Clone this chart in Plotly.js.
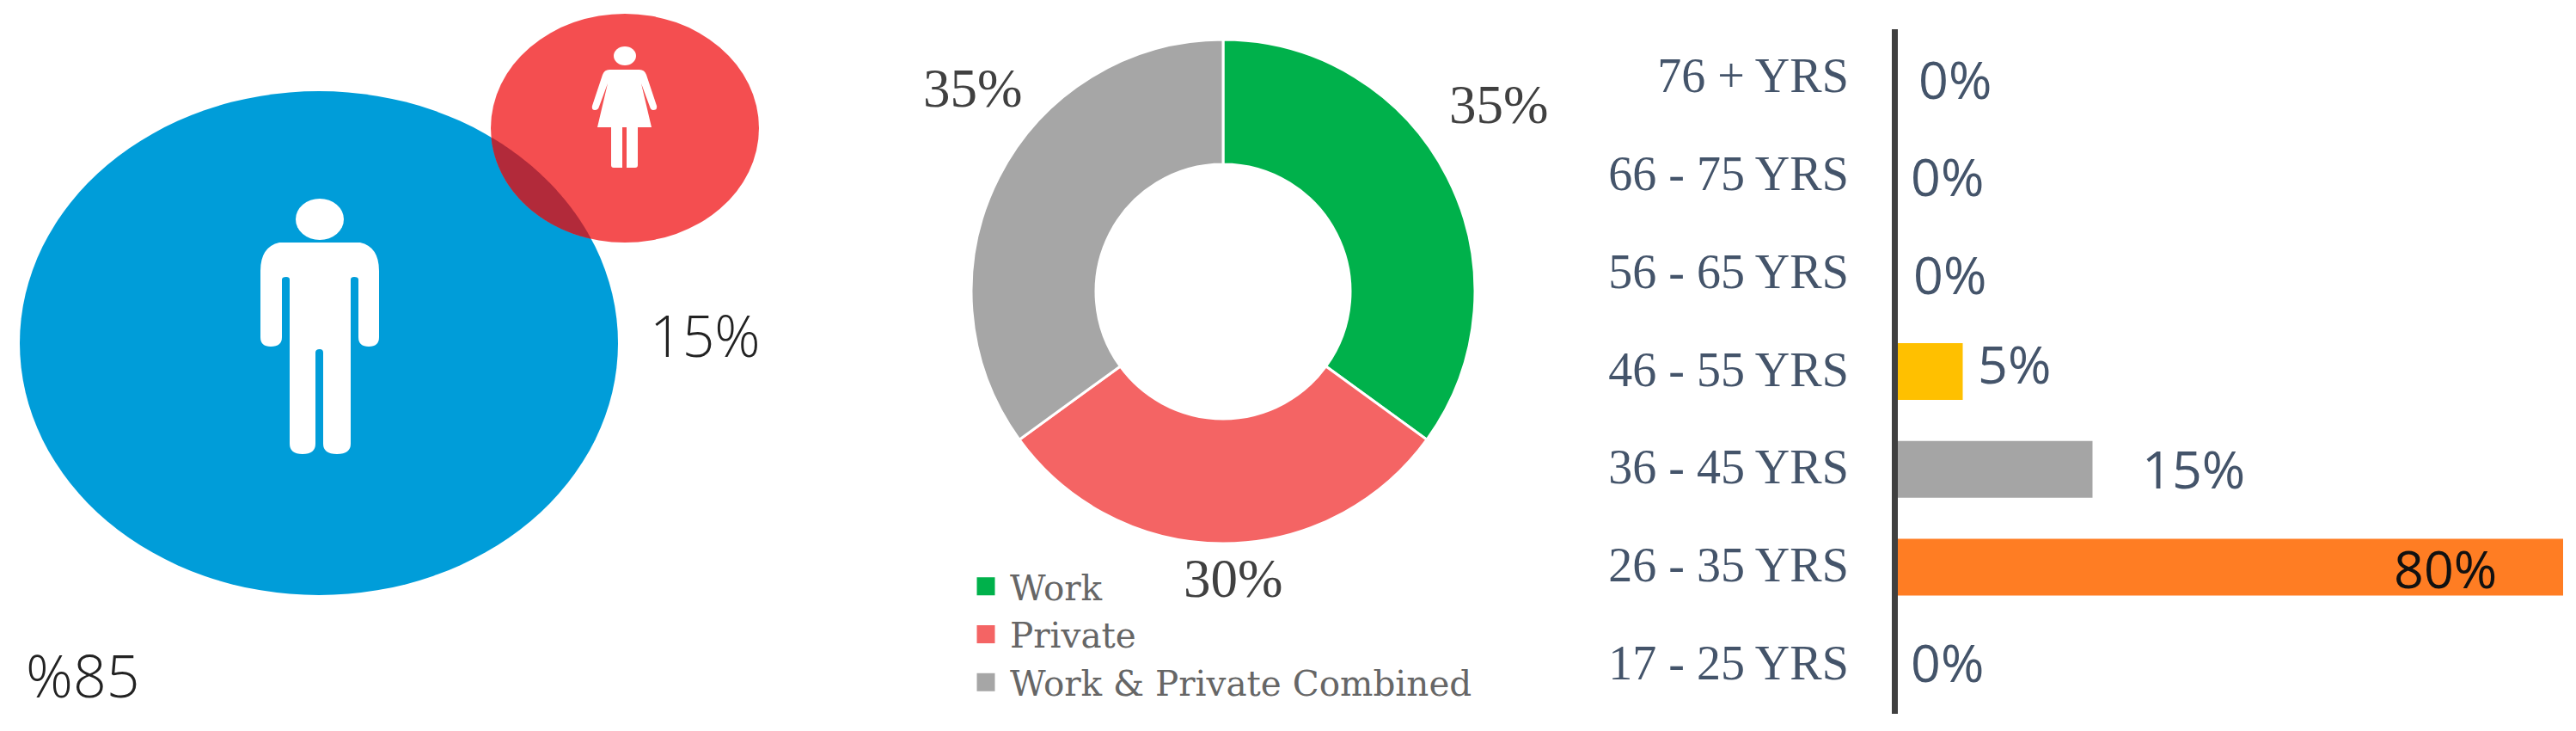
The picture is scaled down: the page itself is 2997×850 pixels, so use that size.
<!DOCTYPE html>
<html><head><meta charset="utf-8">
<script src="https://cdn.plot.ly/plotly-3.0.1.min.js"></script>
<style>html,body{margin:0;padding:0;background:#fff}#c{width:2997px;height:850px}</style></head>
<body><div id="c"></div>
<script>
// ---- data ----
const genderLabels = ['%85', '15%'];
const usageCategories = ['Work', 'Private', 'Work & Private Combined'];
const usageValues = [35, 30, 35];
const usageColors = ['#00B14B', '#F46464', '#A6A6A6'];
const ageCategories = ['17 - 25 YRS', '26 - 35 YRS', '36 - 45 YRS', '46 - 55 YRS', '56 - 65 YRS', '66 - 75 YRS', '76 + YRS'];
const ageValues = [0, 80, 15, 5, 0, 0, 0];
const ageColors = ['#FFC000', '#FF7D23', '#A5A5A5', '#FFC000', '#FFC000', '#FFC000', '#FFC000'];

// ---- page geometry ----
const W = 2997, H = 850;
const px = x => x / W, py = y => 1 - y / H;
const blue = {cx: 371, cy: 399, rx: 348, ry: 293};
const red = {cx: 727, cy: 149, rx: 156, ry: 133};
const inside = (e, x, y) => ((x - e.cx) / e.rx) ** 2 + ((y - e.cy) / e.ry) ** 2 <= 1;
function lensPath() {
  const pts = [];
  for (const [a, b] of [[red, blue], [blue, red]]) {
    for (let i = 0; i < 720; i++) {
      const t = i / 720 * 2 * Math.PI, x = a.cx + a.rx * Math.cos(t), y = a.cy + a.ry * Math.sin(t);
      if (inside(b, x, y)) pts.push([x, y]);
    }
  }
  const mx = pts.reduce((s, p) => s + p[0], 0) / pts.length, my = pts.reduce((s, p) => s + p[1], 0) / pts.length;
  pts.sort((p, q) => Math.atan2(p[1] - my, p[0] - mx) - Math.atan2(q[1] - my, q[0] - mx));
  return 'M' + pts.map(p => p[0].toFixed(1) + ',' + p[1].toFixed(1)).join('L') + 'Z';
}
const ell = (e, color) => ({type: 'circle', xref: 'x2', yref: 'y2', x0: e.cx - e.rx, x1: e.cx + e.rx, y0: e.cy - e.ry, y1: e.cy + e.ry, fillcolor: color, line: {width: 0}});
const pathShape = (d, color) => ({type: 'path', xref: 'x2', yref: 'y2', path: d, fillcolor: color, line: {width: 0}});
const manBody = 'M325,282 L419,282 Q441,287 441,315 L441,392 Q441,403 429,403 Q417,403 417,392 L417,325 Q417,322 412,322 Q408,322 408,325 L408,516 Q408,528 392,528 Q376,528 376,516 L376,410 Q376,406 372,406 Q367,406 367,410 L367,516 Q367,528 352,528 Q337,528 337,516 L337,325 Q337,322 333,322 Q328,322 328,325 L328,392 Q328,403 315,403 Q303,403 303,392 L303,315 Q303,287 325,282 Z';
const womanBody = 'M709,81 L744,81 Q750,81 752,87 L764,123 Q765,128 760,128 Q757,128 756,124 L746,97 L758,148 L742,148 L742,192 Q742,195 739,195 L729,195 L729,148 L724,148 L724,195 L714,195 Q711,195 711,192 L711,148 L695,148 L707,97 L697,124 Q696,128 692,128 Q688,128 689,123 L701,87 Q703,81 709,81 Z';
const white = '#FFFFFF';
const shapes = [
  ell(blue, '#009DD9'), ell(red, '#F44E50'), pathShape(lensPath(), '#B22A3A'),
  ell({cx: 372, cy: 255, rx: 28, ry: 24}, white), pathShape(manBody, white),
  ell({cx: 727, cy: 65, rx: 13, ry: 11}, white), pathShape(womanBody, white)
];

const note = (text, x, y, size, color, family, anchor, weight) => ({
  text, x: px(x), y: py(y), xref: 'paper', yref: 'paper', showarrow: false,
  xanchor: anchor || 'center', yanchor: 'middle', font: {size, color, family, weight: weight || 400}
});

const thin = 'Open Sans, sans-serif', serif = 'Liberation Serif, serif';
const annotations = [
  note(genderLabels[0], 96, 784, 68, '#222222', thin, 'center', 300),
  note(genderLabels[1], 820, 389, 66, '#222222', thin, 'center', 300),
  note(usageValues[0] + '%', 1743, 122, 63, '#404040', serif),
  note(usageValues[1] + '%', 1434, 673, 63, '#404040', serif),
  note(usageValues[2] + '%', 1131, 103, 63, '#404040', serif)
];
// left edge and vertical centre of each age value label, bottom row first
const ageLabelX = [2221, 2783, 2490, 2299, 2224, 2221, 2230];
const ageLabelY = [769, 660, 544, 423, 318, 204, 91];
ageValues.forEach((v, i) => annotations.push(
  note(v + '%', ageLabelX[i], ageLabelY[i], 61, v === 80 ? '#111111' : '#44546A', thin, 'left')));

const traces = [
  {type: 'pie', labels: usageCategories, values: usageValues, sort: false, direction: 'clockwise', rotation: 0,
   hole: 0.505, textinfo: 'none', marker: {colors: usageColors, line: {color: '#FFFFFF', width: 3}},
   domain: {x: [px(1130), px(1716)], y: [py(632), py(46)]}},
  {type: 'bar', orientation: 'h', y: ageCategories, x: ageValues, xaxis: 'x', yaxis: 'y',
   marker: {color: ageColors}, showlegend: false}
];

const layout = {
  width: W, height: H, margin: {l: 0, r: 0, t: 0, b: 0, pad: 0, autoexpand: false},
  paper_bgcolor: '#fff', plot_bgcolor: 'rgba(0,0,0,0)', bargap: 0.42, showlegend: true,
  legend: {x: px(1119), y: py(649), xanchor: 'left', yanchor: 'top', bgcolor: 'rgba(0,0,0,0)', itemwidth: 46,
    font: {family: 'DejaVu Serif, serif', size: 40.5, color: '#666666'}, traceorder: 'normal'},
  xaxis: {domain: [px(2208), px(2982)], range: [0, 51.26], visible: false, fixedrange: true},
  yaxis: {domain: [py(830), py(34)], type: 'category', categoryorder: 'array', categoryarray: ageCategories,
    anchor: 'x', showline: true, linewidth: 7, linecolor: '#404040', showgrid: false, zeroline: false, ticks: '',
    ticklabelstandoff: 39, ticklabelshift: -3, tickfont: {family: serif, size: 56, color: '#44546A'}, fixedrange: true},
  xaxis2: {domain: [0, 1], range: [0, W], visible: false, anchor: 'y2', fixedrange: true},
  yaxis2: {domain: [0, 1], range: [H, 0], visible: false, anchor: 'x2', fixedrange: true},
  shapes, annotations
};
const gd = document.getElementById('c');
function bigGlyphs() {
  gd.querySelectorAll('.legendpie path, .legendpoints path').forEach(p => p.setAttribute('d', 'M12,12V-12H-12V12Z'));
}
Plotly.newPlot(gd, traces, layout, {displayModeBar: false, staticPlot: true}).then(() => {
  bigGlyphs();
  gd.on('plotly_afterplot', bigGlyphs);
});
</script></body></html>
